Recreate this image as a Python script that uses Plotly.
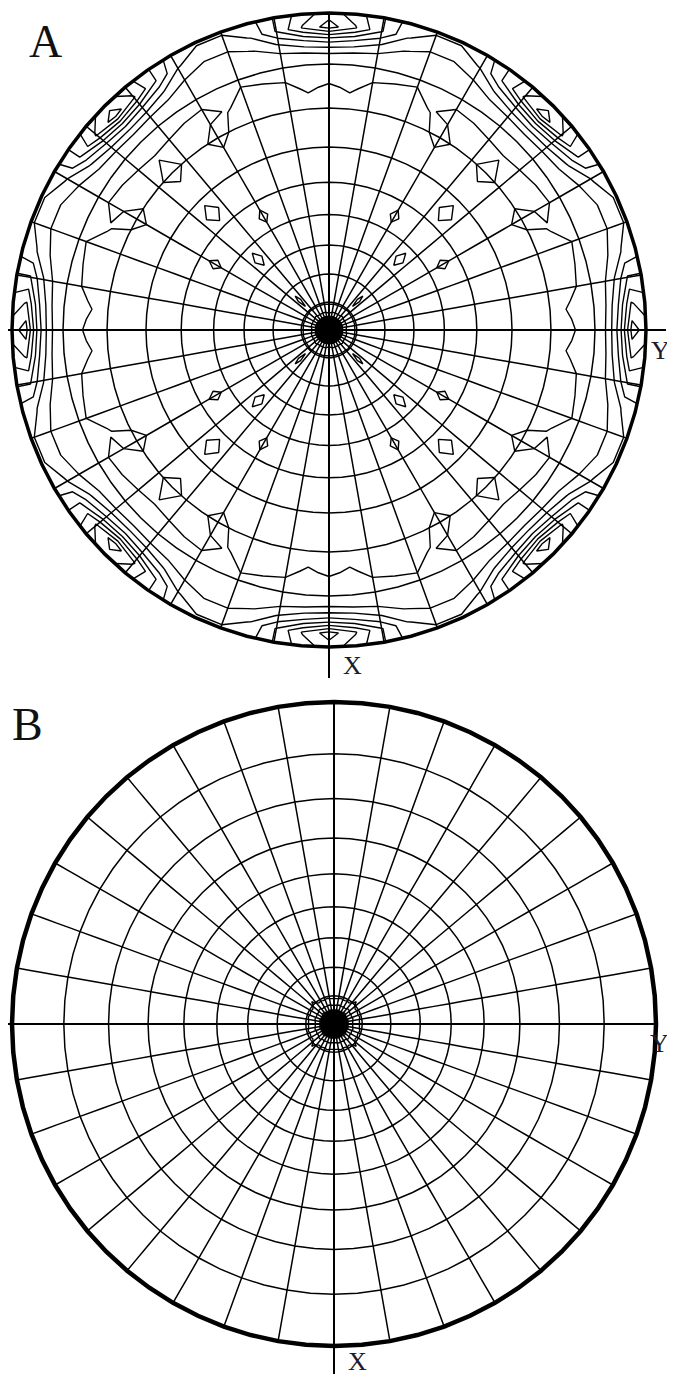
import numpy as np
import plotly.graph_objects as go

# ---------------- data ----------------
# tilt angle psi (deg) rows of the pole-figure tables
PSI = [0, 2.5, 5, 7.5, 10, 15, 20, 25, 30, 35, 40, 45, 50, 55, 60, 65, 70, 75, 80, 82.5, 85, 87.5, 90]
# azimuth phi (deg) columns of one symmetric octant (0 = sample axis, 45 = diagonal)
PHI_OCT = [0, 5, 10, 15, 20, 25, 30, 35, 40, 45]

# Panel A intensity (multiples of random)
A_OCT = [
    [30, 30, 30, 30, 30, 30, 30, 30, 30, 30],
    [14, 14, 14, 14, 14, 14, 14, 14, 14, 14],
    [2.6, 2.6, 2.7, 2.8, 2.8, 2.8, 2.8, 2.7, 2.9, 3.0],
    [1.4, 1.4, 1.5, 1.5, 1.45, 1.45, 1.5, 1.5, 1.55, 1.6],
    [0.85, 0.85, 0.85, 0.85, 0.85, 0.85, 0.85, 0.85, 0.85, 0.9],
    [0.8, 0.8, 0.8, 0.8, 0.8, 0.8, 0.8, 0.8, 0.8, 1.15],
    [0.8, 0.8, 0.8, 0.8, 0.8, 0.8, 0.8, 0.8, 0.8, 0.8],
    [0.8, 0.8, 0.8, 0.8, 0.8, 0.8, 0.8, 0.8, 0.8, 0.8],
    [0.8, 0.8, 0.8, 0.8, 0.8, 0.8, 0.8, 0.8, 0.8, 0.8],
    [0.8, 0.8, 0.8, 0.8, 0.8, 0.8, 0.8, 0.8, 0.8, 1.25],
    [0.8, 0.8, 0.8, 0.8, 0.8, 0.8, 0.8, 0.8, 0.8, 0.8],
    [0.8, 0.8, 0.8, 0.8, 0.8, 0.8, 1.15, 0.8, 0.8, 0.8],
    [0.8, 0.8, 0.8, 0.8, 0.8, 0.8, 0.8, 0.8, 0.8, 0.8],
    [0.8, 0.8, 0.8, 0.8, 0.8, 0.8, 0.8, 0.8, 0.8, 1.3],
    [0.8, 0.8, 0.8, 0.8, 0.8, 0.8, 0.8, 0.8, 0.8, 0.8],
    [0.8, 0.8, 0.8, 0.8, 0.8, 0.8, 0.8, 0.8, 0.8, 0.8],
    [0.85, 0.85, 0.85, 0.85, 0.85, 0.85, 1.25, 0.85, 0.85, 1.3],
    [0.95, 1.05, 0.92, 0.9, 0.9, 1.03, 0.9, 0.9, 0.92, 0.95],
    [1.3, 1.25, 1.15, 1.1, 1.05, 1.05, 1.1, 1.15, 1.25, 1.3],
    [2.1, 2.0, 1.7, 1.4, 1.3, 1.3, 1.4, 1.7, 2.0, 2.1],
    [4.5, 4.0, 3.1, 2.1, 1.7, 1.7, 2.1, 3.1, 4.0, 4.5],
    [8.5, 7.1, 5.1, 3.1, 2.4, 2.4, 3.1, 5.1, 7.1, 8.5],
    [7.5, 6.5, 5.1, 3.5, 3.2, 3.2, 3.5, 5.1, 6.5, 7.5],
]

# Panel B intensity
B_OCT = [
    [30, 30, 30, 30, 30, 30, 30, 30, 30, 30],
    [15, 15, 15, 15, 15, 15, 15, 15, 15, 15],
    [3.0, 3.0, 3.0, 3.1, 3.0, 3.0, 3.1, 3.0, 3.2, 3.2],
    [1.5, 1.5, 1.6, 1.7, 1.6, 1.6, 1.7, 1.6, 1.8, 1.9],
    [0.7, 0.7, 0.7, 0.8, 0.7, 0.7, 0.8, 0.7, 0.9, 1.15],
    [0.5, 0.5, 0.5, 0.5, 0.5, 0.5, 0.5, 0.5, 0.5, 0.5],
    [0.5, 0.5, 0.5, 0.5, 0.5, 0.5, 0.5, 0.5, 0.5, 0.5],
    [0.5, 0.5, 0.5, 0.5, 0.5, 0.5, 0.5, 0.5, 0.5, 0.5],
    [0.5, 0.5, 0.5, 0.5, 0.5, 0.5, 0.5, 0.5, 0.5, 0.5],
    [0.5, 0.5, 0.5, 0.5, 0.5, 0.5, 0.5, 0.5, 0.5, 0.5],
    [0.5, 0.5, 0.5, 0.5, 0.5, 0.5, 0.5, 0.5, 0.5, 0.5],
    [0.5, 0.5, 0.5, 0.5, 0.5, 0.5, 0.5, 0.5, 0.5, 0.5],
    [0.5, 0.5, 0.5, 0.5, 0.5, 0.5, 0.5, 0.5, 0.5, 0.5],
    [0.5, 0.5, 0.5, 0.5, 0.5, 0.5, 0.5, 0.5, 0.5, 0.5],
    [0.5, 0.5, 0.5, 0.5, 0.5, 0.5, 0.5, 0.5, 0.5, 0.5],
    [0.5, 0.5, 0.5, 0.5, 0.5, 0.5, 0.5, 0.5, 0.5, 0.5],
    [0.5, 0.5, 0.5, 0.5, 0.5, 0.5, 0.5, 0.5, 0.5, 0.5],
    [0.5, 0.5, 0.5, 0.5, 0.5, 0.5, 0.5, 0.5, 0.5, 0.5],
    [0.5, 0.5, 0.5, 0.5, 0.5, 0.5, 0.5, 0.5, 0.5, 0.5],
    [0.5, 0.5, 0.5, 0.5, 0.5, 0.5, 0.5, 0.5, 0.5, 0.5],
    [0.5, 0.5, 0.5, 0.5, 0.5, 0.5, 0.5, 0.5, 0.5, 0.5],
    [0.5, 0.5, 0.5, 0.5, 0.5, 0.5, 0.5, 0.5, 0.5, 0.5],
    [0.5, 0.5, 0.5, 0.5, 0.5, 0.5, 0.5, 0.5, 0.5, 0.5],
]

RING_STEP = 10    # degrees between psi circles
SPOKE_STEP = 10   # degrees between azimuth spokes
PANEL_LABELS = ["A", "B"]
AXIS_LABELS = ["X", "Y"]

# ---------------- layout geometry (screen pixels) ----------------
W, H = 675, 1374
PAGE_OFFSET = 8   # the page body margin shifts the figure by this much
PANELS = [
    dict(cx=329, cy=330, R=317, top=0, bottom=687, lab=(45, 41), X=(352, 665), Y=(660, 350),
         hline=(8, 666), vline=(13, 678), rim=3.5),
    dict(cx=334, cy=1024, R=322, top=687, bottom=1374, lab=(27, 724), X=(357, 1361), Y=(659, 1043),
         hline=(8, 657), vline=(702, 1380), rim=4.5),
]

PHI_FULL = np.arange(0, 361, 5)


def expand(oct_table):
    idx = []
    for p in PHI_FULL:
        q = p % 90
        if q > 45:
            q = 90 - q
        idx.append(PHI_OCT.index(q))
    arr = np.array(oct_table, dtype=float)
    return arr[:, idx].T  # shape (n_phi, n_psi)


psi_r = np.tan(np.radians(np.array(PSI)) / 2.0)  # stereographic radius
phi_rad = np.radians(PHI_FULL)
XC = np.outer(np.sin(phi_rad), psi_r)     # Y direction to the right
YC = -np.outer(np.cos(phi_rad), psi_r)    # X direction downward

fig = go.Figure()
tables = [A_OCT, B_OCT]
for k, P in enumerate(PANELS):
    xa = "x" if k == 0 else "x2"
    ya = "y" if k == 0 else "y2"
    cid = "c%d" % k
    fig.add_trace(go.Carpet(
        a=PSI, b=PHI_FULL.tolist(), x=XC.tolist(), y=YC.tolist(), carpet=cid,
        xaxis=xa, yaxis=ya,
        aaxis=dict(tickmode="linear", tick0=0, dtick=RING_STEP, showticklabels="none",
                   showgrid=True, gridcolor="#000", gridwidth=1.5, smoothing=0,
                   startline=False, endline=True, endlinecolor="#000",
                   endlinewidth=P["rim"], minorgridcount=0, showline=False),
        baxis=dict(tickmode="linear", tick0=0, dtick=SPOKE_STEP, showticklabels="none",
                   showgrid=True, gridcolor="#000", gridwidth=1.5, smoothing=0,
                   startline=False, endline=False, minorgridcount=0, showline=False),
    ))
    fig.add_trace(go.Contourcarpet(
        a=PSI, b=PHI_FULL.tolist(), z=expand(tables[k]).tolist(), carpet=cid,
        xaxis=xa, yaxis=ya,
        autocontour=False,
        contours=dict(start=1, end=40, size=1, coloring="lines"),
        colorscale=[[0, "black"], [1, "black"]], showscale=False,
        line=dict(width=1.4, smoothing=0),
    ))

layout_axes = {}
shapes = []
annotations = []
o = PAGE_OFFSET
for k, P in enumerate(PANELS):
    cx, cy, R = P["cx"] - o, P["cy"] - o, P["R"]
    top = max(P["top"] - o, 0)
    bottom = H if k == 1 else P["bottom"] - o
    xr = [(0 - cx) / R, (W - cx) / R]
    yr = [(cy - bottom) / R, (cy - top) / R]
    sx = "" if k == 0 else "2"
    layout_axes["xaxis" + sx] = dict(domain=[0, 1], range=xr, visible=False, fixedrange=True,
                                     anchor="y" + sx)
    layout_axes["yaxis" + sx] = dict(domain=[1 - bottom / H, 1 - top / H], range=yr,
                                     visible=False, fixedrange=True, anchor="x" + sx)
    xref, yref = "x" + sx, "y" + sx
    shapes.append(dict(type="line", xref=xref, yref=yref,
                       x0=(P["hline"][0] - o - cx) / R, x1=(P["hline"][1] - o - cx) / R, y0=0, y1=0,
                       line=dict(color="#000", width=2)))
    shapes.append(dict(type="line", xref=xref, yref=yref, x0=0, x1=0,
                       y0=(cy - (P["vline"][0] - o)) / R, y1=(cy - (P["vline"][1] - o)) / R,
                       line=dict(color="#000", width=2)))

    def txt(s, pos, size, color):
        return dict(text=s, xref="paper", yref="paper",
                    x=(pos[0] - o) / W, y=1 - (pos[1] - o) / H, showarrow=False,
                    xanchor="center", yanchor="middle",
                    font=dict(family="Liberation Serif", size=size, color=color))

    annotations.append(txt(PANEL_LABELS[k], P["lab"], 46, "#111"))
    annotations.append(txt(AXIS_LABELS[0], P["X"], 26, "#1c1c2c"))
    annotations.append(txt(AXIS_LABELS[1], P["Y"], 26, "#1c1c2c"))

fig.update_layout(
    width=W, height=H, margin=dict(l=0, r=0, t=0, b=0),
    paper_bgcolor="white", plot_bgcolor="white", showlegend=False,
    shapes=shapes, annotations=annotations, **layout_axes,
)

fig.write_html("out.html")
